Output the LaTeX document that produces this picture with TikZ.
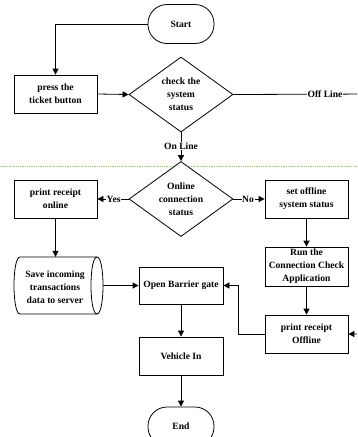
\documentclass[tikz,border=0pt]{standalone}
\usepackage{fontspec}
\setmainfont{Liberation Serif}
\usetikzlibrary{shapes.geometric,arrows.meta}
\definecolor{sepgreen}{RGB}{150,200,110}
\tikzset{
  every node/.style={font=\bfseries\fontsize{9.6}{12.9}\selectfont, align=center, inner sep=0pt},
  proc/.style={draw, line width=0.8pt, fill=white, rectangle, minimum width=83pt, minimum height=38pt},
  term/.style={draw, line width=0.8pt, fill=white, rectangle, rounded corners=19pt, minimum width=66pt, minimum height=39pt},
  decis/.style={draw, line width=0.8pt, fill=white, diamond, aspect=1.39, minimum width=104pt, minimum height=75pt},
  conn/.style={line width=0.8pt, -{Triangle[length=6pt,width=6pt]}},
  lbl/.style={fill=white, inner sep=0.6pt},
  sepline/.style={sepgreen, line width=0.7pt, dash pattern=on 1pt off 0.8pt}
}
\begin{document}
\begin{tikzpicture}[x=1pt,y=-1pt]
\useasboundingbox (0,0) rectangle (357,437);
\clip (0,0) rectangle (357,437);
% separator
\draw[sepline] (0,166) -- (357,166);
% nodes
\node[term] (start) at (181,24) {Start};
\node[proc] (press) at (55.5,94) {press the\\ticket button};
\node[decis] (d1) at (181,94.5) {check the\\system\\status};
\node[decis] (d2) at (181,199) {Online\\connection\\status};
\node[proc] (ponl) at (55.5,199) {print receipt\\online};
\node[proc] (soff) at (306.5,199) {set offline\\system status};
\node[proc, minimum height=39pt] (run) at (306.5,266.5) {Run the\\Connection Check\\Application};
\node[proc] (poff) at (306.5,334) {print receipt\\Offline};
\node[proc, minimum width=84pt, minimum height=37pt] (open) at (181,285.5) {Open Barrier gate};
\node[proc, minimum width=84pt] (veh) at (181,356) {Vehicle In};
\node[term] (end) at (181,426.5) {End};
% storage shape
\node[minimum width=89pt, minimum height=57pt] (save) at (58.5,285.5) {};
\draw[line width=0.8pt, fill=white] (20,257) -- (97,257)
   .. controls (105,257) and (105,314) .. (97,314)
   -- (20,314)
   .. controls (12,314) and (12,257) .. (20,257) -- cycle;
\draw[line width=0.8pt] (97,257) .. controls (89,257) and (89,314) .. (97,314);
\node (savetext) at (55,287) {Save incoming\\transactions\\data to server};
% connectors
\draw[conn] (start.west) -| (press.north);
\draw[conn] (press.east) -- (d1.west);
\coordinate (rt) at (375,94);
\draw[conn] (d1.east) -- (rt) |- (poff.east);
\node[lbl] (offl) at (325,94) {Off Line};
\draw[conn] (d1.south) -- (d2.north);
\node[lbl] (onl) at (181,146) {On Line};
\draw[conn] (d2.west) -- node[lbl, pos=0.48] (yes) {Yes} (ponl.east);
\draw[conn] (d2.east) -- node[lbl, pos=0.47] (no) {No} (soff.west);
\draw[conn] (ponl.south) -- (ponl.south |- save.north);
\draw[conn] (save.east) -- (open.west);
\draw[conn] (soff.south) -- (run.north);
\draw[conn] (run.south) -- (poff.north);
\draw[conn] (poff.west) -- ++(-26,0) |- (open.east);
\draw[conn] (open.south) -- (veh.north);
\draw[conn] (veh.south) -- (end.north);
\end{tikzpicture}
\end{document}
